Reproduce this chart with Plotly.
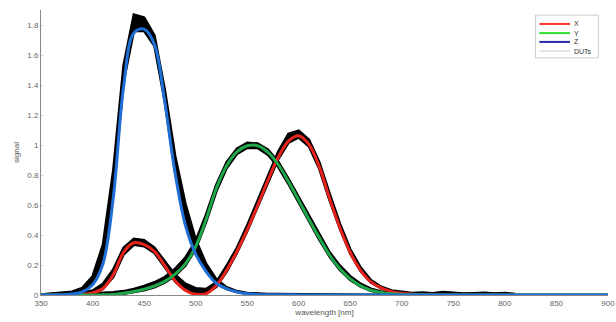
import plotly.graph_objects as go

# wavelengths (nm), 10 nm steps
wl = list(range(350, 910, 10))

# reference colour matching functions (CIE 1931-like)
x_ref = [0, 0.00013, 0.000415, 0.001368, 0.004243, 0.01431, 0.04351, 0.13438, 0.2839, 0.34828,
         0.3362, 0.2908, 0.19536, 0.09564, 0.03201, 0.0049, 0.0093, 0.06327, 0.1655, 0.2904,
         0.43345, 0.5945, 0.7621, 0.9163, 1.0263, 1.0622, 1.0026, 0.85445, 0.6424, 0.4479,
         0.2835, 0.1649, 0.0874, 0.04677, 0.0227, 0.011359, 0.00579, 0.002899, 0.00144, 0.00069,
         0.000332, 0.000166, 0.000083, 0.000042, 0, 0, 0, 0, 0, 0,
         0, 0, 0, 0, 0, 0]
y_ref = [0, 0.000004, 0.000012, 0.000039, 0.00012, 0.000396, 0.00121, 0.004, 0.0116, 0.023,
         0.038, 0.06, 0.09098, 0.13902, 0.20802, 0.323, 0.503, 0.71, 0.862, 0.954,
         0.99495, 0.995, 0.952, 0.87, 0.757, 0.631, 0.503, 0.381, 0.265, 0.175,
         0.107, 0.061, 0.032, 0.017, 0.00821, 0.004102, 0.002091, 0.001047, 0.00052, 0.000249,
         0.00012, 0.00006, 0.00003, 0.000015, 0, 0, 0, 0, 0, 0,
         0, 0, 0, 0, 0, 0]
z_ref = [0, 0.000606, 0.001946, 0.00645, 0.02005, 0.06785, 0.2074, 0.6456, 1.3856, 1.74706,
         1.77211, 1.6692, 1.28764, 0.81295, 0.46518, 0.272, 0.1582, 0.07825, 0.04216, 0.0203,
         0.00875, 0.0039, 0.0021, 0.00165, 0.0011, 0.0008, 0.00034, 0.00019, 0.00005, 0.00002,
         0, 0, 0, 0, 0, 0, 0, 0, 0, 0,
         0, 0, 0, 0, 0, 0, 0, 0, 0, 0,
         0, 0, 0, 0, 0, 0]

# DUT measurement envelopes (upper / lower), 350..810 nm
wl_dut = list(range(350, 820, 10))
dut_x_hi = [0.004, 0.008, 0.012, 0.01, 0.016, 0.03, 0.075, 0.17, 0.315, 0.375,
            0.365, 0.315, 0.225, 0.135, 0.075, 0.045, 0.04, 0.085, 0.195, 0.315,
            0.465, 0.625, 0.795, 0.955, 1.075, 1.095, 1.035, 0.885, 0.675, 0.475,
            0.305, 0.185, 0.1, 0.055, 0.03, 0.02, 0.014, 0.016, 0.011, 0.02,
            0.013, 0.01, 0.012, 0.015, 0.01, 0.014, 0.006]
dut_x_lo = [0, 0, 0, 0.001, 0.003, 0.01, 0.04, 0.12, 0.27, 0.335,
            0.325, 0.28, 0.185, 0.09, 0.03, 0.006, 0.008, 0.055, 0.155, 0.28,
            0.425, 0.585, 0.75, 0.905, 1.015, 1.05, 0.99, 0.84, 0.63, 0.44,
            0.275, 0.16, 0.083, 0.044, 0.02, 0.009, 0.004, 0.002, 0.001, 0,
            0, 0, 0, 0, 0, 0, 0]
dut_y_hi = [0.003, 0.006, 0.008, 0.007, 0.012, 0.012, 0.014, 0.018, 0.026, 0.04,
            0.06, 0.085, 0.12, 0.175, 0.25, 0.36, 0.535, 0.735, 0.885, 0.975,
            1.015, 1.01, 0.97, 0.89, 0.775, 0.65, 0.525, 0.4, 0.285, 0.195,
            0.125, 0.075, 0.042, 0.024, 0.014, 0.01, 0.008, 0.009, 0.007, 0.012,
            0.008, 0.006, 0.007, 0.009, 0.006, 0.008, 0.004]
dut_y_lo = [0, 0, 0, 0, 0, 0, 0.001, 0.003, 0.009, 0.019,
            0.032, 0.052, 0.082, 0.128, 0.195, 0.305, 0.485, 0.69, 0.845, 0.94,
            0.98, 0.98, 0.935, 0.855, 0.74, 0.615, 0.49, 0.368, 0.255, 0.165,
            0.1, 0.055, 0.028, 0.013, 0.006, 0.003, 0.001, 0, 0, 0,
            0, 0, 0, 0, 0, 0, 0]
dut_z_hi = [0.004, 0.01, 0.014, 0.022, 0.048, 0.125, 0.335, 0.83, 1.53, 1.87,
            1.85, 1.73, 1.37, 0.93, 0.61, 0.37, 0.21, 0.105, 0.052, 0.026,
            0.014, 0.009, 0.007, 0.006, 0.005, 0.004, 0.004, 0.003, 0.003, 0.002,
            0.002, 0.002, 0, 0, 0, 0, 0, 0, 0, 0,
            0, 0, 0, 0, 0, 0, 0]
dut_z_lo = [0, 0, 0.001, 0.006, 0.022, 0.08, 0.24, 0.7, 1.42, 1.76,
            1.76, 1.66, 1.29, 0.82, 0.47, 0.275, 0.16, 0.078, 0.04, 0.019,
            0.008, 0.003, 0.001, 0, 0, 0, 0, 0, 0, 0,
            0, 0, 0, 0, 0, 0, 0, 0, 0, 0,
            0, 0, 0, 0, 0, 0, 0]

# legend entries
legend_names = ["X", "Y", "Z", "DUTs"]
legend_colors = ["#ff3030", "#30e030", "#2828a8", "#c8c8c8"]

fig = go.Figure()

for hi, lo in [(dut_x_hi, dut_x_lo), (dut_y_hi, dut_y_lo), (dut_z_hi, dut_z_lo)]:
    fig.add_trace(go.Scatter(x=wl_dut, y=lo, mode="lines", line=dict(color="black", width=2.5),
                             showlegend=False, hoverinfo="skip"))
    fig.add_trace(go.Scatter(x=wl_dut, y=hi, mode="lines", line=dict(color="black", width=2.5),
                             fill="tonexty", fillcolor="black", showlegend=False, hoverinfo="skip"))

for ys, col in [(x_ref, "#e8221c"), (y_ref, "#1ea84a"), (z_ref, "#1f6fd6")]:
    fig.add_trace(go.Scatter(x=wl, y=ys, mode="lines", line=dict(color=col, width=3, shape="spline"),
                             showlegend=False, hoverinfo="skip"))

# compact legend box drawn in paper coordinates
shapes = [dict(type="rect", xref="paper", yref="paper", x0=0.872, x1=0.983, y0=0.832, y1=0.982,
               line=dict(color="#cccccc", width=1), fillcolor="white", layer="above")]
annotations = []
row_y = [0.951, 0.919, 0.888, 0.856]
for name, col, ry in zip(legend_names, legend_colors, row_y):
    shapes.append(dict(type="line", xref="paper", yref="paper", x0=0.879, x1=0.933, y0=ry, y1=ry,
                       line=dict(color=col, width=2 if name != "DUTs" else 1), layer="above"))
    annotations.append(dict(xref="paper", yref="paper", x=0.936, y=ry, text=name, showarrow=False,
                            xanchor="left", yanchor="middle", font=dict(size=7, color="#333333")))

fig.update_layout(
    width=616, height=322,
    margin=dict(l=41, r=8, t=10, b=27),
    paper_bgcolor="white", plot_bgcolor="white",
    font=dict(family="Liberation Sans, Arial, sans-serif", size=8, color="#555555"),
    showlegend=False,
    shapes=shapes, annotations=annotations,
)
fig.update_xaxes(range=[349.9, 900.1], tickvals=list(range(350, 950, 50)), showgrid=False, zeroline=False,
                 showline=True, linecolor="#888888", linewidth=1, ticklabeloverflow="allow",
                 automargin=False,
                 ticks="", tickfont=dict(size=8, color="#666666"),
                 title=dict(text="wavelength [nm]", font=dict(size=8, color="#555555"), standoff=2))
fig.update_yaxes(range=[0, 1.9], tickvals=[0, 0.2, 0.4, 0.6, 0.8, 1, 1.2, 1.4, 1.6, 1.8],
                 ticktext=["0", "0.2", "0.4", "0.6", "0.8", "1", "1.2", "1.4", "1.6", "1.8"],
                 showgrid=False, zeroline=False, showline=True, linecolor="#888888", linewidth=1,
                 ticks="inside", ticklen=3, tickcolor="#dddddd", automargin=False,
                 tickfont=dict(size=8, color="#666666"),
                 title=dict(text="signal", font=dict(size=8, color="#555555"), standoff=6))

fig.write_html("out.html")
